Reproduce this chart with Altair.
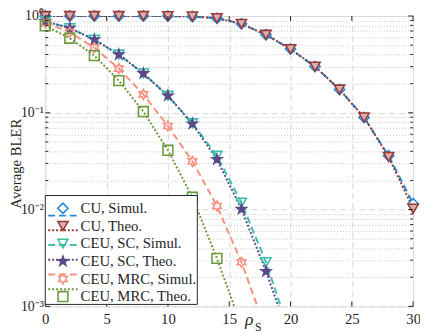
import altair as alt
import pandas as pd

# ---------------- data ----------------
series_names = ["CU, Simul.", "CU, Theo.", "CEU, SC, Simul.", "CEU, SC, Theo.",
                "CEU, MRC, Simul.", "CEU, MRC, Theo."]

x_cu = [0, 2, 4, 6, 8, 10, 12, 14, 16, 18, 20, 22, 24, 26, 28, 30]
cu_simul = [1.0, 1.0, 1.0, 1.0, 1.0, 0.998, 0.99, 0.95, 0.83, 0.64, 0.455, 0.30, 0.174, 0.0895, 0.036, 0.0115]
cu_theo = [1.0, 1.0, 1.0, 1.0, 1.0, 0.998, 0.99, 0.95, 0.83, 0.64, 0.455, 0.30, 0.174, 0.0895, 0.035, 0.0102]

x_sc = [0, 2, 4, 6, 8, 10, 12, 14, 16, 18, 20]
sc_simul = [0.88, 0.75, 0.57, 0.40, 0.255, 0.150, 0.078, 0.036, 0.0118, 0.00286, 0.0005]
sc_theo = [0.88, 0.75, 0.57, 0.40, 0.255, 0.150, 0.077, 0.033, 0.0101, 0.0023, 0.00044]

x_mrc_s = [0, 2, 4, 6, 8, 10, 12, 14, 16, 18]
mrc_simul = [0.85, 0.68, 0.47, 0.286, 0.155, 0.073, 0.0315, 0.0109, 0.00286, 0.00057]

x_mrc_t = [0, 2, 4, 6, 8, 10, 12, 14, 16]
mrc_theo = [0.79, 0.59, 0.39, 0.215, 0.103, 0.041, 0.0134, 0.00313, 0.00062]

x_ticks = [0, 5, 10, 15, 20, 25, 30]
y_major = [1, 0.1, 0.01, 0.001]
y_major_labels = ["10⁰", "10⁻¹", "10⁻²", "10⁻³"]
y_minor = [m * d for d in [0.1, 0.01, 0.001] for m in range(2, 10)]

# ---------------- styles ----------------
colors = ["#2389d6", "#983838", "#3cbfb0", "#5b4889", "#f7917f", "#6b9a3c"]
fills = ["transparent", "#d9b0b0", "transparent", "#5b4889", "transparent", "transparent"]
dashes = [[7, 4], [2, 2], [7, 4], [2, 2], [7, 4], [2, 2]]
STAR = ("M0,-1L0.225,-0.309L0.951,-0.309L0.363,0.118L0.588,0.809L0,0.382"
        "L-0.588,0.809L-0.363,0.118L-0.951,-0.309L-0.225,-0.309Z")
HEX = ("M0,-1L0.289,-0.5L0.866,-0.5L0.577,0L0.866,0.5L0.289,0.5L0,1"
       "L-0.289,0.5L-0.866,0.5L-0.577,0L-0.866,-0.5L-0.289,-0.5Z")
shapes = ["diamond", "triangle-down", "triangle-down", STAR, HEX, "square"]
sizes = [110, 100, 110, 180, 120, 60]

FONT = "Liberation Serif"
W, H = 375, 296

rows = []
for name, xs, ys in [(series_names[0], x_cu, cu_simul), (series_names[1], x_cu, cu_theo),
                     (series_names[2], x_sc, sc_simul), (series_names[3], x_sc, sc_theo),
                     (series_names[4], x_mrc_s, mrc_simul), (series_names[5], x_mrc_t, mrc_theo)]:
    for xv, yv in zip(xs, ys):
        rows.append({"series": name, "x": xv, "y": yv, "order": series_names.index(name)})
df = pd.DataFrame(rows)

xscale = alt.Scale(domain=[0, 30], nice=False, zero=False)
yscale = alt.Scale(type="log", domain=[0.001, 1], nice=False)

major_test = " || ".join(f"datum.value === {v}" for v in y_major)
label_expr = " : ".join(f"datum.value === {v} ? '{l}'" for v, l in zip(y_major, y_major_labels)) + " : ''"

color_enc = alt.Color("series:N", scale=alt.Scale(domain=series_names, range=colors), legend=None)
stroke_enc = alt.Stroke("series:N", scale=alt.Scale(domain=series_names, range=colors), legend=None)
fill_enc = alt.Fill("series:N", scale=alt.Scale(domain=series_names, range=fills), legend=None)
dash_enc = alt.StrokeDash("series:N", scale=alt.Scale(domain=series_names, range=dashes), legend=None)
shape_enc = alt.Shape("series:N", scale=alt.Scale(domain=series_names, range=shapes), legend=None)
size_enc = alt.Size("series:N", scale=alt.Scale(domain=series_names, range=sizes), legend=None)

lines = alt.Chart(df).mark_line(clip=True, strokeWidth=2).encode(
    x=alt.X("x:Q", scale=xscale,
            axis=alt.Axis(values=x_ticks, title=None, grid=True, gridDash=[6, 4],
                          gridColor="#d6d6d6", ticks=False, domain=False,
                          labelFont=FONT, labelFontSize=15, labelColor="#262626",
                          labelPadding=5, labelFlush=False)),
    y=alt.Y("y:Q", scale=yscale,
            axis=alt.Axis(values=y_major + y_minor, labelExpr=label_expr,
                          title="Average BLER", titleFont=FONT, titleFontSize=15,
                          titleFontWeight="normal", titleColor="#262626",
                          titleX=-30, titleY=150, titleAngle=270,
                          titleAlign="center", titleBaseline="middle",
                          grid=True, ticks=False, domain=False,
                          gridDash={"condition": {"test": major_test, "value": [6, 4]}, "value": [1, 2]},
                          gridColor={"condition": {"test": major_test, "value": "#d6d6d6"}, "value": "#c4c4c4"},
                          labelFont=FONT, labelFontSize=14, labelColor="#262626",
                          labelPadding=2, labelOverlap=False, labelBound=False, labelFlush=False)),
    color=color_enc,
    strokeDash=dash_enc,
    detail="series:N",
    order="order:Q",
)

points = alt.Chart(df).transform_filter("datum.y >= 0.001").mark_point(strokeWidth=1.6, opacity=1).encode(
    x=alt.X("x:Q", scale=xscale),
    y=alt.Y("y:Q", scale=yscale, axis=None),
    stroke=stroke_enc,
    fill=fill_enc,
    shape=shape_enc,
    size=size_enc,
    order="order:Q",
)

# inward ticks
def yticks(vals, x1, x2):
    return alt.Chart(pd.DataFrame({"v": vals})).mark_rule(color="#262626", strokeWidth=1).encode(
        y=alt.Y("v:Q", scale=yscale, axis=None), x=alt.value(x1), x2=alt.value(x2))

def xticks(vals, y1, y2):
    return alt.Chart(pd.DataFrame({"v": vals})).mark_rule(color="#262626", strokeWidth=1).encode(
        x=alt.X("v:Q", scale=xscale), y=alt.value(y1), y2=alt.value(y2))

tick_layers = [
    yticks(y_major, 0, 5), yticks(y_minor, 0, 3),
    yticks(y_major, W - 5, W), yticks(y_minor, W - 3, W),
    xticks(x_ticks, H - 5, H), xticks(x_ticks, 0, 5),
]

# legend
leg_df = pd.DataFrame({"series": series_names})
leg_y = alt.Y("series:N", scale=alt.Scale(domain=series_names, range=[196, 286], padding=0), axis=None)
leg_box = alt.Chart(pd.DataFrame({"a": [0]})).mark_rect(fill="white", stroke="#262626", strokeWidth=1).encode(
    x=alt.value(0), x2=alt.value(155), y=alt.value(183), y2=alt.value(294))
leg_lines = alt.Chart(leg_df).mark_rule(strokeWidth=2).encode(
    x=alt.value(3), x2=alt.value(33), y=leg_y, color=color_enc, strokeDash=dash_enc)
leg_pts = alt.Chart(leg_df).mark_point(strokeWidth=1.6, opacity=1).encode(
    x=alt.value(18), y=leg_y, stroke=stroke_enc, fill=fill_enc, shape=shape_enc, size=size_enc)
leg_text = alt.Chart(leg_df).mark_text(align="left", baseline="middle", font=FONT, fontSize=15,
                                       color="#262626").encode(
    x=alt.value(36), y=leg_y, text="series:N")

# x-axis title rho_S
rho = alt.Chart(pd.DataFrame({"t": ["ρ"]})).mark_text(font=FONT, fontSize=18, fontStyle="italic",
                                                     align="center", baseline="middle", color="#262626").encode(
    x=alt.value(208), y=alt.value(310), text="t:N")
sub = alt.Chart(pd.DataFrame({"t": ["S"]})).mark_text(font=FONT, fontSize=12,
                                                     align="center", baseline="middle", color="#262626").encode(
    x=alt.value(217), y=alt.value(317), text="t:N")

chart = alt.layer(
    lines, points, *tick_layers, leg_box, leg_lines, leg_pts, leg_text, rho, sub
).resolve_scale(y="independent").properties(
    width=W, height=H,
    autosize=alt.AutoSizeParams(type="none"),
    padding={"left": 38, "top": 5, "right": 7, "bottom": 25},
).configure_view(stroke="#262626", strokeWidth=1).configure(background="white")

chart.save("out.html", embed_options={"renderer": "svg", "actions": False})
